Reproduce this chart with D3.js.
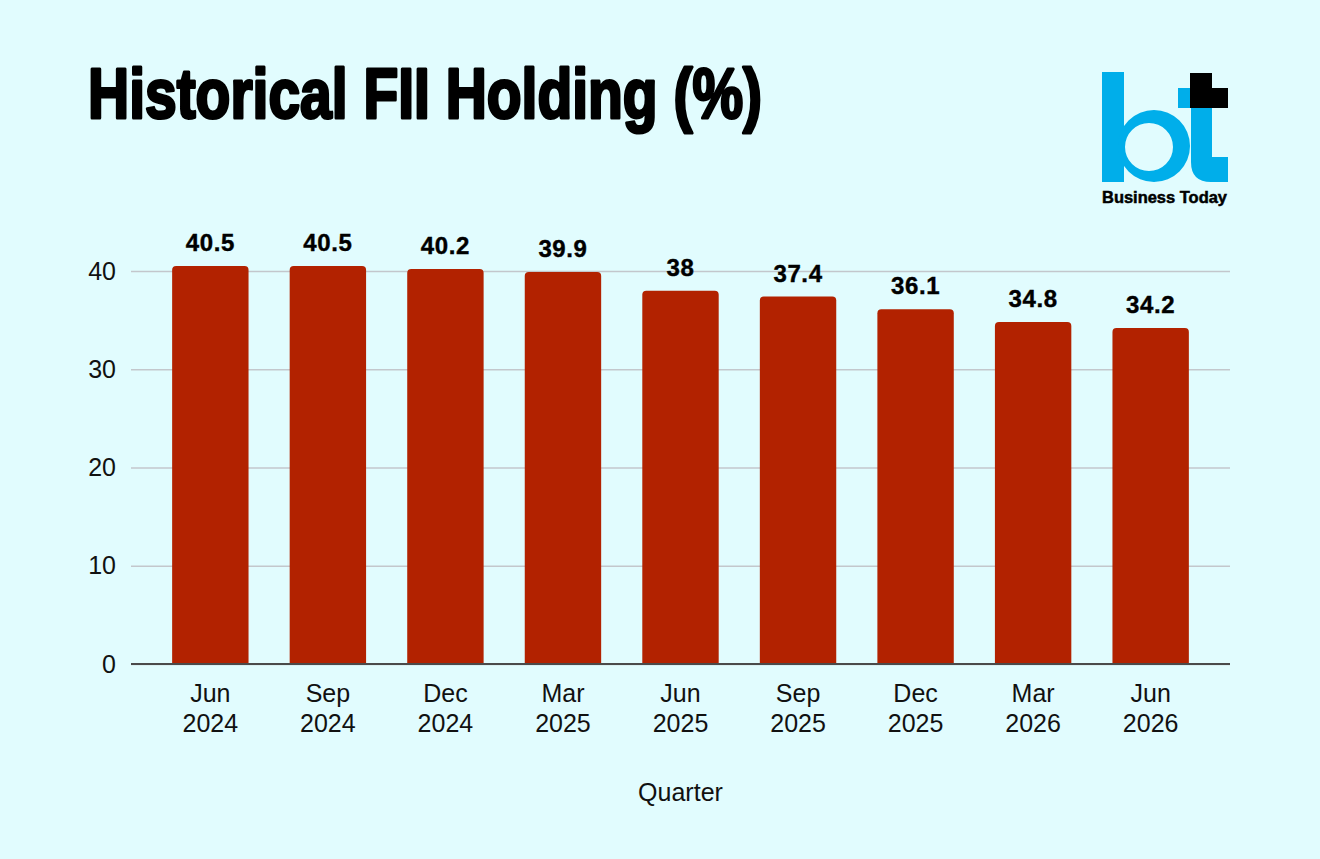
<!DOCTYPE html>
<html>
<head>
<meta charset="utf-8">
<title>Historical FII Holding</title>
<script src="https://d3js.org/d3.v7.min.js"></script>
<style>
  body { margin: 0; background: #e1fcfe; }
  svg { display: block; }
  text { font-family: "Liberation Sans", Arial, sans-serif; }
</style>
</head>
<body>
<script>
// chart data
var quarters = ["Jun 2024", "Sep 2024", "Dec 2024", "Mar 2025", "Jun 2025",
                "Sep 2025", "Dec 2025", "Mar 2026", "Jun 2026"];
var fiiHolding = [40.5, 40.5, 40.2, 39.9, 38, 37.4, 36.1, 34.8, 34.2];
var yTicks = [0, 10, 20, 30, 40];

var w = 1320, h = 859;
var left = 131, right = 1230, bottom = 664, top40 = 271;

var svg = d3.select("body").append("svg")
            .attr("width", w)
            .attr("height", h);

svg.append("rect").attr("width", w).attr("height", h).attr("fill", "#e1fcfe");

// title
svg.append("text")
   .attr("x", 88)
   .attr("y", 118)
   .attr("textLength", 674)
   .attr("lengthAdjust", "spacingAndGlyphs")
   .style("font-size", "70px")
   .style("font-weight", "bold")
   .attr("fill", "#000")
   .attr("stroke", "#000")
   .attr("stroke-width", 3)
   .attr("stroke-linejoin", "round")
   .text("Historical FII Holding (%)");

// logo
var logo = svg.append("g");
var blue = "#00aeea";
logo.append("rect").attr("x", 1102).attr("y", 72).attr("width", 22).attr("height", 110).attr("fill", blue);
logo.append("path")
    .attr("fill-rule", "evenodd")
    .attr("fill", blue)
    .attr("d", "M1118,146 a36,36 0 1,0 72,0 a36,36 0 1,0 -72,0 Z M1125,147 a24,24 0 1,0 48,0 a24,24 0 1,0 -48,0 Z");
logo.append("rect").attr("x", 1178).attr("y", 88).attr("width", 13).attr("height", 20).attr("fill", blue);
logo.append("path")
    .attr("fill", blue)
    .attr("d", "M1191,108 H1212 V157 H1228 V182 H1211 Q1191,182 1191,162 Z");
logo.append("path")
    .attr("fill", "#000")
    .attr("d", "M1190,73 H1212 V88 H1228 V108 H1190 Z");
logo.append("text")
   .attr("x", 1102)
   .attr("y", 203)
   .attr("textLength", 125)
   .attr("lengthAdjust", "spacingAndGlyphs")
   .style("font-size", "16px")
   .style("font-weight", "bold")
   .attr("fill", "#000")
   .attr("stroke", "#000")
   .attr("stroke-width", 0.5)
   .text("Business Today");

// scales
var x = d3.scaleBand()
          .domain(quarters)
          .range([left, right])
          .padding(0.35);
var y = d3.scaleLinear()
          .domain([0, 40])
          .range([bottom, top40]);

// gridlines + y labels
var yAxis = d3.axisLeft(y)
              .tickValues(yTicks)
              .tickSize(-(right - left))
              .tickPadding(15);
var gy = svg.append("g")
            .attr("transform", "translate(" + left + ",0)")
            .call(yAxis);
gy.select(".domain").remove();
gy.selectAll(".tick line").attr("stroke", "#c3c7cc").attr("stroke-width", 1.5);
gy.selectAll(".tick text")
  .style("font-size", "25px")
  .style("font-family", "'Liberation Sans', Arial, sans-serif")
  .attr("fill", "#111");

// bars with rounded tops
var r = 4;
svg.selectAll("path.bar")
   .data(fiiHolding)
   .enter()
   .append("path")
   .attr("class", "bar")
   .attr("fill", "#b22200")
   .attr("d", function(d, i) {
     var x0 = x(quarters[i]), bw = x.bandwidth(), yt = y(d);
     return "M" + x0 + "," + bottom +
            " V" + (yt + r) +
            " Q" + x0 + "," + yt + " " + (x0 + r) + "," + yt +
            " H" + (x0 + bw - r) +
            " Q" + (x0 + bw) + "," + yt + " " + (x0 + bw) + "," + (yt + r) +
            " V" + bottom + " Z";
   });

// value labels
svg.selectAll("text.val")
   .data(fiiHolding)
   .enter()
   .append("text")
   .attr("class", "val")
   .attr("x", function(d, i) { return x(quarters[i]) + x.bandwidth() / 2; })
   .attr("y", function(d) { return y(d) - 15; })
   .attr("text-anchor", "middle")
   .style("font-size", "24px")
   .style("font-weight", "bold")
   .style("letter-spacing", "0.6px")
   .attr("fill", "#000")
   .attr("stroke", "#000")
   .attr("stroke-width", 0.4)
   .text(function(d) { return d; });

// baseline
svg.append("line")
   .attr("x1", left).attr("x2", right)
   .attr("y1", bottom).attr("y2", bottom)
   .attr("stroke", "#4a4a4a")
   .attr("stroke-width", 2);

// x labels, two lines
var xl = svg.selectAll("text.xl")
            .data(quarters)
            .enter()
            .append("text")
            .attr("class", "xl")
            .attr("text-anchor", "middle")
            .style("font-size", "25px")
            .attr("fill", "#111")
            .attr("transform", function(d) {
              return "translate(" + (x(d) + x.bandwidth() / 2) + ",702)";
            });
xl.append("tspan").attr("x", 0).attr("y", 0).text(function(d) { return d.split(" ")[0]; });
xl.append("tspan").attr("x", 0).attr("y", 30).text(function(d) { return d.split(" ")[1]; });

svg.append("text")
   .attr("x", (left + right) / 2)
   .attr("y", 801)
   .attr("text-anchor", "middle")
   .style("font-size", "25px")
   .attr("fill", "#111")
   .text("Quarter");
</script>
</body>
</html>
